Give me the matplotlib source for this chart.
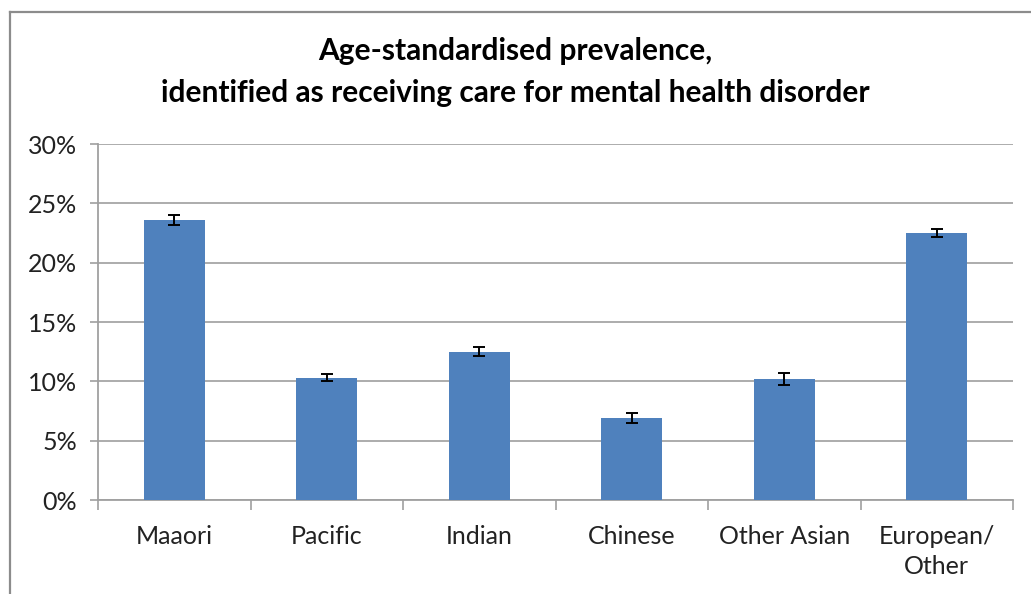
import matplotlib
matplotlib.use("Agg")
import matplotlib.pyplot as plt
from matplotlib.lines import Line2D
import numpy as np

categories = ["Maaori", "Pacific", "Indian", "Chinese", "Other Asian", "European/\nOther"]
prevalence = [23.6, 10.3, 12.5, 6.9, 10.2, 22.5]
ci_half = [0.45, 0.3, 0.4, 0.45, 0.5, 0.3]
y_ticks = [0, 5, 10, 15, 20, 25, 30]
title = "Age-standardised prevalence,\nidentified as receiving care for mental health disorder"

plt.rcParams["font.family"] = ["Lato", "DejaVu Sans"]

W, H = 1031, 594
fig = plt.figure(figsize=(W / 100, H / 100), dpi=100)
ax = fig.add_axes([98 / W, 1 - 500 / H, (1013 - 98) / W, (500 - 144) / H])

x = np.arange(len(categories))
ax.bar(x, prevalence, width=0.4, color="#4F81BD", zorder=3)
ax.errorbar(x, prevalence, yerr=ci_half, fmt="none", ecolor="black",
            elinewidth=1.4, capsize=4.5, capthick=1.4, zorder=4)

ax.set_xlim(-0.5, len(categories) - 0.5)
ax.set_ylim(0, 30)
ax.set_yticks(y_ticks)
ax.set_yticklabels([f"{v}%" for v in y_ticks], fontsize=18, color="#222222")
ax.set_xticks(x)
ax.set_xticklabels(categories, fontsize=18, color="#222222", linespacing=1.38)
ax.set_xticks(np.arange(-0.5, len(categories)), minor=True)
ax.tick_params(axis="x", which="major", length=0, pad=18)
ax.tick_params(axis="x", which="minor", length=7, width=1.2, color="#a0a0a0", direction="out")
ax.tick_params(axis="y", length=6, width=1.2, color="#a0a0a0", pad=9)

ax.yaxis.grid(True, color="#a6a6a6", linewidth=1.3, zorder=0)
ax.set_axisbelow(True)
for side in ("top", "right"):
    ax.spines[side].set_visible(False)
for side in ("left", "bottom"):
    ax.spines[side].set_color("#a0a0a0")
    ax.spines[side].set_linewidth(1.3)

fig.text(0.5, 1 - 72 / H, title, ha="center", va="center", fontsize=21.5,
         fontweight="bold", linespacing=1.6, color="black")

# chart frame (left and top edges)
fig.add_artist(Line2D([10 / W, 10 / W], [0, 1 - 12 / H], transform=fig.transFigure,
                      color="#8c8c8c", linewidth=1.6))
fig.add_artist(Line2D([10 / W, 1], [1 - 12 / H, 1 - 12 / H], transform=fig.transFigure,
                      color="#8c8c8c", linewidth=1.6))

fig.savefig("out.png", dpi=100, facecolor="white")
